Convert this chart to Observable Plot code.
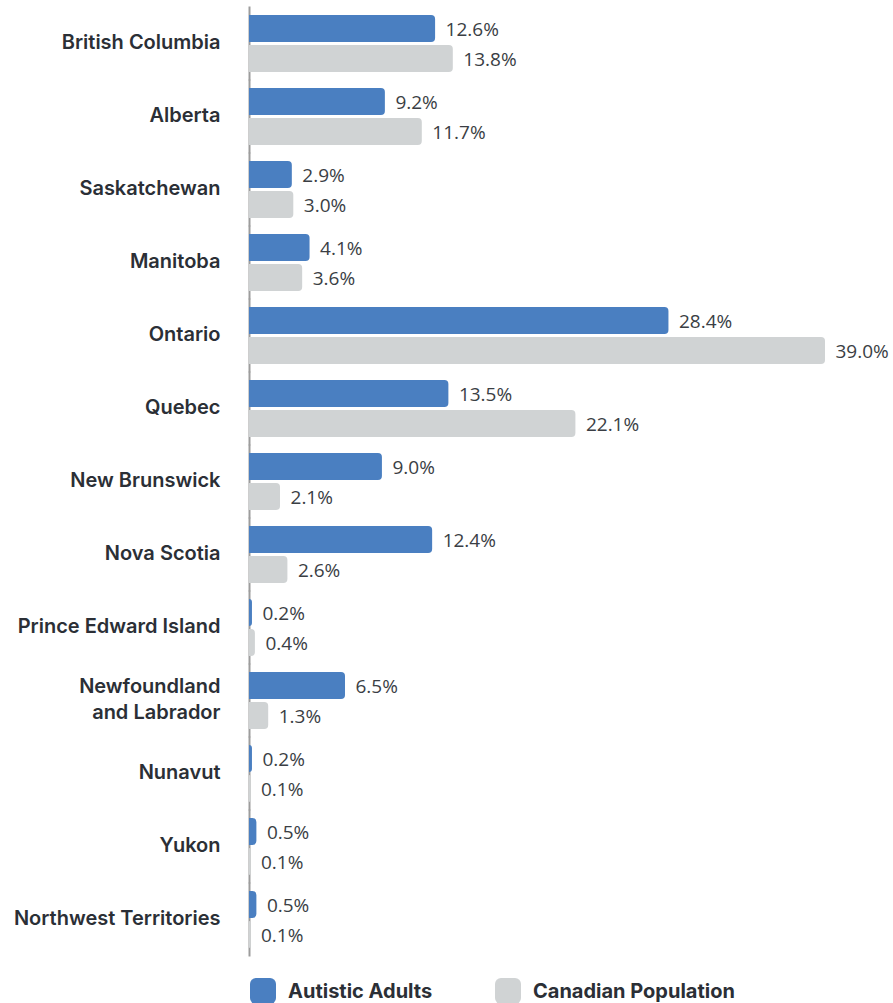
<!DOCTYPE html>
<html>
<head>
<meta charset="utf-8">
<script src="https://cdn.jsdelivr.net/npm/d3@7"></script>
<script src="https://cdn.jsdelivr.net/npm/@observablehq/plot@0.6"></script>
<style>
  html, body { margin: 0; padding: 0; background: #fff; }
  #chart svg { display: block; }
  .legend { position: relative; height: 26px; margin-top: 13px; font-family: Inter, "Noto Sans", sans-serif; font-weight: 700; font-size: 20px; color: #2b2f36; }
  .legend .item { position: absolute; top: 0; display: flex; align-items: center; }
  .legend .sw { width: 26px; height: 26px; border-radius: 6px; margin-right: 12px; }
</style>
</head>
<body>
<div id="chart"></div>
<div class="legend" id="legend"></div>
<script>
const provinces = ["British Columbia", "Alberta", "Saskatchewan", "Manitoba", "Ontario", "Quebec", "New Brunswick", "Nova Scotia", "Prince Edward Island", "Newfoundland and Labrador", "Nunavut", "Yukon", "Northwest Territories"];
const autisticAdults = [12.6, 9.2, 2.9, 4.1, 28.4, 13.5, 9.0, 12.4, 0.2, 6.5, 0.2, 0.5, 0.5];
const canadianPopulation = [13.8, 11.7, 3.0, 3.6, 39.0, 22.1, 2.1, 2.6, 0.4, 1.3, 0.1, 0.1, 0.1];
const seriesNames = ["Autistic Adults", "Canadian Population"];
const seriesColors = ["#4a7fc1", "#d0d3d4"];

const rows = [];
provinces.forEach((p, i) => {
  rows.push({province: p, series: seriesNames[0], value: autisticAdults[i]});
  rows.push({province: p, series: seriesNames[1], value: canadianPopulation[i]});
});

const labelFormat = (p) => p === "Newfoundland and Labrador" ? "Newfoundland\nand Labrador" : p;

const chart = Plot.plot({
  width: 893,
  height: 965,
  marginLeft: 249,
  marginRight: 68,
  marginTop: 7,
  marginBottom: 10,
  style: {fontFamily: "Inter, 'Noto Sans', sans-serif", background: "#fff"},
  x: {domain: [0, 39], axis: null},
  y: {domain: seriesNames, axis: null, paddingInner: 0.1, paddingOuter: 0},
  fy: {domain: provinces, paddingInner: 0.22, paddingOuter: 0.1, axis: null},
  color: {domain: seriesNames, range: seriesColors},
  marks: [
    Plot.ruleX(provinces.map(p => ({province: p, x: 0})), {x: "x", fy: "province", stroke: "#9c9c9c", strokeWidth: 2, insetTop: -8.5, insetBottom: -8.5}),
    Plot.barX(rows, {x: "value", y: "series", fy: "province", fill: "series", rx2: 4}),
    Plot.text(rows, {x: "value", y: "series", fy: "province", text: d => d.value.toFixed(1) + "%", textAnchor: "start", dx: 10, dy: 1, fontSize: 19, fill: "#3a3e44", fontFamily: "'Open Sans', 'Noto Sans', sans-serif"}),
    Plot.axisFy({anchor: "left", tickSize: 0, tickPadding: 29, label: null, tickFormat: labelFormat, fontSize: 20, fontWeight: 600, lineHeight: 1.3, dy: -3, color: "#2b2f36"})
  ]
});
document.getElementById("chart").appendChild(chart);

const legend = document.getElementById("legend");
const legendLeft = [250, 495];
seriesNames.forEach((s, i) => {
  const item = document.createElement("div");
  item.className = "item";
  item.style.left = legendLeft[i] + "px";
  const sw = document.createElement("div");
  sw.className = "sw";
  sw.style.background = seriesColors[i];
  const t = document.createElement("span");
  t.textContent = s;
  item.appendChild(sw);
  item.appendChild(t);
  legend.appendChild(item);
});
</script>
</body>
</html>
